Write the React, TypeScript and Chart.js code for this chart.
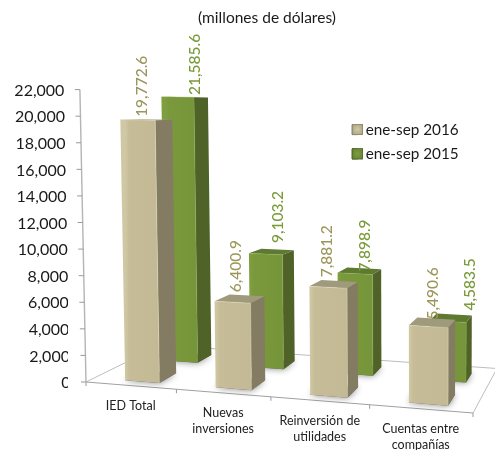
import React, { useEffect, useRef } from "react";
import { Chart, registerables } from "chart.js";

Chart.register(...registerables);

const categories = ["IED Total", ["Nuevas", "inversiones"], ["Reinversión de", "utilidades"], ["Cuentas entre", "compañías"]];
const values2016 = [19772.6, 6400.9, 7881.2, 5490.6];
const values2015 = [21585.6, 9103.2, 7898.9, 4583.5];
const seriesNames = ["ene-sep 2016", "ene-sep 2015"];

const FONT = "Lato";
const TAN = "#c6bd98";
const GREEN = "#7a993c";

// Floor of the 3D box (front-left, front-right, back-right, back-left)
const P0 = [86, 382], P1 = [473, 413], P2 = [497, 368.5], P3 = [161, 345];
const VX = 420, VD = 16000;
const sx = P0[0] - P1[0] + P2[0] - P3[0], sy = P0[1] - P1[1] + P2[1] - P3[1];
const dx1 = P1[0] - P2[0], dy1 = P1[1] - P2[1], dx2 = P3[0] - P2[0], dy2 = P3[1] - P2[1];
const det = dx1 * dy2 - dx2 * dy1;
const G = (sx * dy2 - dx2 * sy) / det, H = (dx1 * sy - sx * dy1) / det;
const A = P1[0] - P0[0] + G * P1[0], B = P3[0] - P0[0] + H * P3[0];
const D = P1[1] - P0[1] + G * P1[1], E = P3[1] - P0[1] + H * P3[1];

type Pt = { x: number; y: number; w: number };
const floor = (u: number, d: number): Pt => {
  const w = G * u + H * d + 1;
  return { x: (A * u + B * d + P0[0]) / w, y: (D * u + E * d + P0[1]) / w, w };
};
const up = (p: Pt, h: number): Pt => ({ x: p.x + ((p.x - VX) / VD) * h / p.w, y: p.y - h / p.w, w: p.w });

const rows = [
  { d0: 0.1, d1: 0.33, du: 0.01, half: 0.048, front: ["#d0c8a4", "#c6bd98", "#c3ba95"], side: "#837c62", top: "#a09a7c", label: "#9c965a", edge: "rgba(235,230,200,0.4)" },
  { d0: 0.61, d1: 0.83, du: 0.018, half: 0.048, front: ["#7f9e40", "#7a993c", "#76953a"], side: "#4f6228", top: "#5e7a30", label: "#7a9a38", edge: "rgba(150,180,90,0.35)" },
];
const labelDx = [[4, 3.5, -1.5, 5], [17, 12, 10, 22]];
const labelGap = [[3, 10, 10, 7], [2, 11, 2, 11]];

const poly = (ctx: CanvasRenderingContext2D, pts: Pt[]) => {
  ctx.beginPath();
  pts.forEach((p, i) => (i ? ctx.lineTo(p.x, p.y) : ctx.moveTo(p.x, p.y)));
  ctx.closePath();
};

const line = (ctx: CanvasRenderingContext2D, a: { x: number; y: number }, b: { x: number; y: number }) => {
  ctx.beginPath();
  ctx.moveTo(a.x, a.y);
  ctx.lineTo(b.x, b.y);
  ctx.stroke();
};

const fmt = (v: number) => v.toLocaleString("en-US", { minimumFractionDigits: 1, maximumFractionDigits: 1 });

const scene3d = {
  id: "scene3d",
  afterLayout(chart: any) {
    const t = chart.titleBlock;
    t.left += 19.5;
    t.right += 19.5;
    const l = chart.legend;
    const w = l.width;
    l.left = 343;
    l.right = 343 + w;
    l.top = 113;
    l.bottom = 113 + l.height;
  },
  beforeDraw(chart: any) {
    const y = chart.scales.y;
    const items = y.getLabelItems(chart.chartArea);
    items.forEach((it: any) => {
      if (it.__done) return;
      it.__done = true;
      const hpx = y.bottom - it.options.translation[1];
      it.options.translation[0] += ((P0[0] - VX) / VD) * hpx + 4.5;
      it.options.translation[1] += 1;
    });
  },
  beforeDatasetDraw() {
    return false;
  },
  beforeDatasetsDraw(chart: any) {
    const ctx: CanvasRenderingContext2D = chart.ctx;
    const yS = chart.scales.y, xS = chart.scales.x;
    const area = chart.chartArea;
    ctx.save();
    // floor outline
    ctx.strokeStyle = "#bdbdbd";
    ctx.lineWidth = 1;
    const f0 = floor(0, 0), f1 = floor(1, 0), b1 = floor(1, 1), b0 = floor(0, 1);
    line(ctx, b0, b1);
    line(ctx, f0, b0);
    line(ctx, f1, b1);
    ctx.strokeStyle = "#a0a0a0";
    line(ctx, f0, f1);
    // value axis and its tick marks
    ctx.strokeStyle = "#b4b4b4";
    ctx.lineWidth = 1.4;
    line(ctx, f0, up(f0, yS.bottom - yS.top));
    ctx.lineWidth = 1;
    ctx.strokeStyle = "#999999";
    yS.ticks.forEach((t: any) => {
      const p = up(f0, yS.bottom - yS.getPixelForValue(t.value));
      line(ctx, { x: p.x - 5, y: p.y }, p);
    });
    // category tick marks
    for (let i = 0; i <= categories.length; i++) {
      const p = floor(i / categories.length, 0);
      line(ctx, p, { x: p.x, y: p.y + 4 });
    }
    // bars, back row first
    [1, 0].forEach((di) => {
      const r = rows[di];
      chart.getDatasetMeta(di).data.forEach((el: any) => {
        const u = (el.x - area.left) / area.width + r.du;
        const h = el.base - el.y;
        const u0 = u - r.half, u1 = u + r.half;
        const fl = floor(u0, r.d0), fr = floor(u1, r.d0), br = floor(u1, r.d1), bl = floor(u0, r.d1);
        const tfl = up(fl, h), tfr = up(fr, h), tbr = up(br, h), tbl = up(bl, h);
        // soft contact shadow
        ctx.save();
        ctx.shadowColor = "rgba(40,40,40,0.75)";
        ctx.shadowBlur = 7;
        ctx.fillStyle = "rgba(70,70,70,0.8)";
        poly(ctx, [fl, fr, br, bl]);
        ctx.fill();
        ctx.restore();
        // side
        ctx.fillStyle = r.side;
        poly(ctx, [fr, br, tbr, tfr]);
        ctx.fill();
        // top
        ctx.fillStyle = r.top;
        poly(ctx, [tfl, tfr, tbr, tbl]);
        ctx.fill();
        // front
        const g = ctx.createLinearGradient(fl.x, 0, fr.x, 0);
        g.addColorStop(0, r.front[0]);
        g.addColorStop(0.12, r.front[1]);
        g.addColorStop(1, r.front[2]);
        ctx.fillStyle = g;
        poly(ctx, [fl, fr, tfr, tfl]);
        ctx.fill();
        ctx.strokeStyle = r.edge;
        ctx.lineWidth = 1;
        line(ctx, tfl, tfr);
        line(ctx, tfr, fr);
      });
    });
    // category labels
    ctx.fillStyle = "#222222";
    ctx.font = `12.5px ${FONT}`;
    ctx.textAlign = "center";
    ctx.textBaseline = "middle";
    xS.ticks.forEach((t: any, i: number) => {
      const p = floor((xS.getPixelForTick(i) - area.left) / area.width, 0);
      const lines = Array.isArray(t.label) ? t.label : [t.label];
      lines.forEach((s: string, j: number) => ctx.fillText(s, p.x, p.y + 20 + j * 16));
    });
    ctx.restore();
  },
  afterDatasetsDraw(chart: any) {
    const ctx: CanvasRenderingContext2D = chart.ctx;
    const area = chart.chartArea;
    ctx.save();
    ctx.font = `500 15.5px ${FONT}`;
    ctx.textBaseline = "middle";
    ctx.textAlign = "left";
    [1, 0].forEach((di) => {
      const r = rows[di];
      ctx.fillStyle = r.label;
      chart.getDatasetMeta(di).data.forEach((el: any, i: number) => {
        const u = (el.x - area.left) / area.width + r.du;
        const t = up(floor(u, r.d0), el.base - el.y);
        ctx.save();
        ctx.translate(t.x + labelDx[di][i], t.y - labelGap[di][i]);
        ctx.rotate(-Math.PI / 2);
        ctx.fillText(fmt(chart.data.datasets[di].data[i]), 0, 0);
        ctx.restore();
      });
    });
    // legend swatches, wider than the gap the native legend leaves
    const hit = chart.legend.legendHitBoxes;
    hit.forEach((b: any, i: number) => {
      const c = [rows[0], rows[1]][i];
      const x = b.left, yy = b.top + 2, s = 11;
      const g = ctx.createRadialGradient(x + s / 2, yy + s / 2, 0, x + s / 2, yy + s / 2, s * 0.75);
      g.addColorStop(0, c.front[0]);
      g.addColorStop(1, c.top);
      ctx.fillStyle = g;
      ctx.fillRect(x, yy, s, s);
      ctx.strokeStyle = c.side;
      ctx.lineWidth = 0.6;
      ctx.strokeRect(x + 0.3, yy + 0.3, s - 0.6, s - 0.6);
    });
    ctx.restore();
  },
};

export default function App() {
  const ref = useRef<HTMLCanvasElement>(null);
  useEffect(() => {
    document.body.style.margin = "0";
    const chart = new Chart(ref.current!, {
      type: "bar",
      data: {
        labels: categories as any,
        datasets: [
          { label: seriesNames[0], data: values2016, backgroundColor: TAN, borderColor: "#8f8868", borderWidth: 1 },
          { label: seriesNames[1], data: values2015, backgroundColor: GREEN, borderColor: "#4f6228", borderWidth: 1 },
        ],
      },
      options: {
        responsive: false,
        animation: false,
        layout: { padding: { top: 0, bottom: 68, left: 0, right: 0 } },
        datasets: { bar: { grouped: false } },
        scales: {
          x: {
            grid: { display: false },
            border: { display: false },
            ticks: { display: false },
            afterFit: (s: any) => { s.height = 0; },
          },
          y: {
            min: 0,
            max: 22000,
            grid: { display: false, drawTicks: false },
            border: { display: false },
            ticks: {
              stepSize: 2000,
              padding: 2,
              color: "#1a1a1a",
              font: { family: FONT, size: 16 },
              callback: (v: any) => Number(v).toLocaleString("en-US"),
            },
            afterFit: (s: any) => { s.width = 68; },
          },
        },
        plugins: {
          tooltip: { enabled: false },
          title: {
            display: true,
            text: "(millones de dólares)",
            color: "#1a1a1a",
            font: { family: FONT, size: 15.5, weight: "normal" },
            padding: { top: 9, bottom: 62 },
          },
          legend: {
            position: "chartArea",
            align: "start",
            labels: {
              boxWidth: 6,
              boxHeight: 10,
              padding: 9,
              color: "#1a1a1a",
              font: { family: FONT, size: 15.3 },
            },
          },
        },
      } as any,
      plugins: [scene3d as any],
    });
    return () => chart.destroy();
  }, []);
  return <canvas ref={ref} width={495} height={450} style={{ display: "block" }} />;
}
